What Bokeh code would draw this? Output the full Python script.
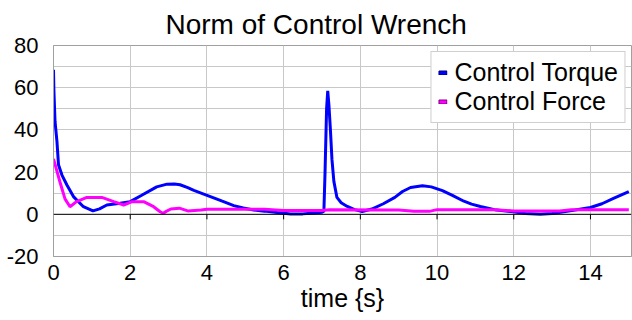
from bokeh.plotting import figure
from bokeh.embed import file_html
from bokeh.resources import INLINE
from bokeh.models import Span, Legend, LegendItem, FixedTicker, Range1d, PrintfTickFormatter

# --- data ---
t_torque = [0, 0.01, 0.04, 0.09, 0.13, 0.22, 0.35, 0.52, 0.78, 1.03, 1.2, 1.39, 1.74,
            2.0, 2.3, 2.69, 2.96, 3.15, 3.3, 3.5, 3.66, 3.9, 4.09, 4.4, 4.7, 4.95, 5.22, 5.5, 5.83, 6.18,
            6.5, 6.8, 7.0, 7.05, 7.08, 7.12, 7.15, 7.18, 7.22, 7.26, 7.31, 7.39, 7.5, 7.66, 7.85, 8.05, 8.3,
            8.6, 8.9, 9.1, 9.31, 9.62, 9.85, 10.14, 10.4, 10.7, 10.9, 11.13, 11.5, 11.99, 12.3, 12.69, 13.0,
            13.3, 13.6, 14.0, 14.3, 14.6, 15.0]
torque = [68.5, 59, 44, 34.6, 23.5, 18.6, 13.9, 8.4, 3.6, 1.6, 2.6, 4.4, 5.2,
          6.0, 9.0, 13.0, 14.3, 14.4, 14.0, 12.6, 11.3, 9.7, 8.4, 6.2, 4.1, 3.0, 2.0, 1.5, 0.8, 0.1,
          0.2, 0.6, 1.0, 1.5, 20, 50, 58.5, 52, 40, 26, 15.6, 8.0, 5.5, 3.7, 2.2, 1.3, 2.5,
          5.0, 8.0, 10.8, 12.7, 13.5, 13.0, 11.2, 9.0, 6.2, 4.8, 3.7, 2.2, 1.2, 0.4, 0.0, 0.4,
          1.2, 2.0, 3.2, 5.0, 7.5, 10.8]

t_force = [0, 0.17, 0.3, 0.43, 0.6, 0.87, 1.26, 1.57, 1.83, 2.05, 2.35, 2.61, 2.78,
           2.86, 2.95, 3.06, 3.28, 3.5, 3.85, 4.0, 5.5, 6.0, 7.0, 7.2, 9.0, 9.4, 9.8, 10.0,
           11.5, 12.0, 13.2, 13.5, 15.0]
force = [26.3, 15.2, 7.3, 3.6, 6.0, 8.0, 8.0, 6.0, 4.4, 6.0, 6.0, 3.6, 1.2,
         0.5, 1.5, 2.5, 2.9, 1.6, 2.0, 2.4, 2.4, 1.8, 1.8, 2.2, 2.0, 1.4, 1.4, 2.2,
         2.2, 1.6, 1.6, 2.2, 2.2]

x_ticks = [0, 2, 4, 6, 8, 10, 12, 14]
y_ticks = [-20, 0, 20, 40, 60, 80]
series_names = ["Control Torque", "Control Force"]

FONT = "Liberation Sans"
GRID = "#c8c8c8"
NAN = float("nan")

p = figure(width=632, height=320, output_backend="svg", toolbar_location=None,
           x_range=Range1d(0, 15.07), y_range=Range1d(-20, 80),
           min_border_left=53, min_border_right=1, min_border_bottom=64, min_border_top=44)

p.title.text = "Norm of Control Wrench"
p.title.align = "left"
p.title.offset = 112
p.title.text_font = FONT
p.title.text_font_size = "28px"
p.title.text_font_style = "normal"
p.title.text_color = "black"
p.title.standoff = 12

p.outline_line_color = "#a0a0a0"
p.background_fill_color = "white"
p.border_fill_color = "white"

# axes
p.xaxis.ticker = FixedTicker(ticks=x_ticks)
p.yaxis.ticker = FixedTicker(ticks=y_ticks, minor_ticks=list(range(-20, 81, 10)))
p.yaxis.formatter = PrintfTickFormatter(format="%d")
for ax in (p.xaxis[0], p.yaxis[0]):
    ax.axis_line_color = "#a0a0a0"
    ax.major_tick_line_color = None
    ax.minor_tick_line_color = None
    ax.major_tick_out = 0
    ax.major_tick_in = 0
    ax.major_label_text_font = FONT
    ax.major_label_text_font_size = "22px"
    ax.major_label_text_color = "black"
p.yaxis.major_label_standoff = 11
p.xaxis.major_label_standoff = 8
p.xaxis.axis_label = "time {s}"
p.xaxis.axis_label_text_font = FONT
p.xaxis.axis_label_text_font_size = "25px"
p.xaxis.axis_label_text_font_style = "normal"
p.xaxis.axis_label_text_color = "black"
p.xaxis.axis_label_standoff = 1

p.xgrid.grid_line_color = GRID
p.ygrid.grid_line_color = GRID
p.ygrid.minor_grid_line_color = GRID

# zero line with tick marks
p.add_layout(Span(location=0, dimension="width", line_color="black", line_width=1))
p.segment(x0=x_ticks, x1=x_ticks, y0=[0] * len(x_ticks), y1=[-2.4] * len(x_ticks),
          line_color="black", line_width=1)

l1 = p.line(t_torque, torque, line_color="#0000ff", line_width=3)
l2 = p.line(t_force, force, line_color="#ff00ff", line_width=3)

# legend proxies (small boxes, not drawn in the plot)
r1 = p.rect(x=[NAN], y=[NAN], width=1, height=1, fill_color="#0000ff", line_color="#000080")
r2 = p.rect(x=[NAN], y=[NAN], width=1, height=1, fill_color="#ff00ff", line_color="#800080")

legend = Legend(items=[LegendItem(label=series_names[0], renderers=[r1]),
                       LegendItem(label=series_names[1], renderers=[r2])],
                location="top_right")
legend.label_text_font = FONT
legend.label_text_font_size = "25px"
legend.label_text_color = "black"
legend.glyph_width = 10
legend.glyph_height = 5
legend.label_standoff = 7
legend.spacing = 0
legend.padding = 6
legend.margin = 6
legend.label_height = 27
legend.border_line_color = "#a0a0a0"
legend.background_fill_alpha = 1
p.add_layout(legend, "center")

open("out.html", "w").write(file_html(p, INLINE))
